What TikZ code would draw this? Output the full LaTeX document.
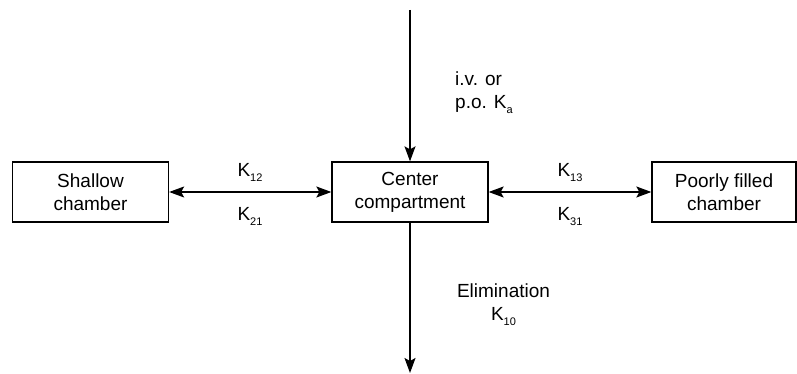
\documentclass[tikz,border=0pt]{standalone}
\usepackage{fontspec}
\setmainfont{Liberation Sans}
\usetikzlibrary{arrows.meta}
\newcommand{\sbs}[1]{\raisebox{-5pt}{\fontsize{11}{11}\selectfont #1}}
\begin{document}
\begin{tikzpicture}[x=1pt,y=-1pt,
  box/.style={draw, line width=1.3pt, minimum width=156pt, minimum height=60pt, align=center, inner sep=0pt, font=\fontsize{19}{23}\selectfont},
  lbl/.style={inner sep=0pt, font=\fontsize{19}{23}\selectfont},
  conn/.style={line width=1.3pt},
  tip/.style={-{Stealth[length=15pt,width=11pt,inset=3pt]}},
  tips/.style={{Stealth[length=15pt,width=11pt,inset=3pt]}-{Stealth[length=15pt,width=11pt,inset=3pt]}}]
\useasboundingbox (0,0) rectangle (797,374);
\node[box] (shallow) at (90.5,192) {Shallow\\chamber};
\node[box] (center) at (410,192) {Center\\compartment};
\node[box, minimum width=144pt] (poor) at (724,192) {Poorly filled\\chamber};
\coordinate (top) at (410,10);
\coordinate (bot) at (410,373);
\draw[conn,tips] (shallow.east) -- (center.west);
\draw[conn,tips] (center.east) -- (poor.west);
\draw[conn,tip] (top) -- (center.north);
\draw[conn,tip] (center.south) -- (bot);
\node[lbl, anchor=base] (k12) at (250,177) {K\sbs{12}};
\node[lbl, anchor=base] (k21) at (250,220) {K\sbs{21}};
\node[lbl, anchor=base] (k13) at (570,177) {K\sbs{13}};
\node[lbl, anchor=base] (k31) at (570,220) {K\sbs{31}};
\node[lbl, anchor=west, align=left] (iv) at (455,93) {i.v. or\\p.o. K\sbs{a}};
\node[lbl, align=center] (elim) at (503.5,305) {Elimination\\K\sbs{10}};
\end{tikzpicture}
\end{document}
